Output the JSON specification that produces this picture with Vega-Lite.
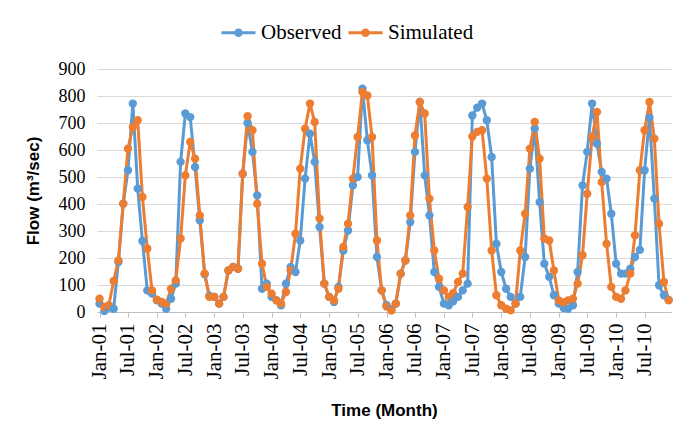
{
  "$schema": "https://vega.github.io/schema/vega-lite/v6.json",
  "width": 574,
  "height": 243,
  "autosize": {"type": "none"},
  "padding": {"left": 97, "top": 69, "right": 2, "bottom": 124},
  "background": "white",
  "config": {"view": {"stroke": null}},
  "data": {"values": [
    {"date":"2001/01/01","Observed":31,"Simulated":49},
    {"date":"2001/02/01","Observed":4,"Simulated":18},
    {"date":"2001/03/01","Observed":16,"Simulated":25},
    {"date":"2001/04/01","Observed":12,"Simulated":115},
    {"date":"2001/05/01","Observed":185,"Simulated":191},
    {"date":"2001/06/01","Observed":401,"Simulated":401},
    {"date":"2001/07/01","Observed":525,"Simulated":605},
    {"date":"2001/08/01","Observed":772,"Simulated":685},
    {"date":"2001/09/01","Observed":457,"Simulated":710},
    {"date":"2001/10/01","Observed":263,"Simulated":426},
    {"date":"2001/11/01","Observed":80,"Simulated":235},
    {"date":"2001/12/01","Observed":68,"Simulated":80},
    {"date":"2002/01/01","Observed":43,"Simulated":46},
    {"date":"2002/02/01","Observed":31,"Simulated":37},
    {"date":"2002/03/01","Observed":12,"Simulated":31},
    {"date":"2002/04/01","Observed":49,"Simulated":86},
    {"date":"2002/05/01","Observed":105,"Simulated":117},
    {"date":"2002/06/01","Observed":556,"Simulated":272},
    {"date":"2002/07/01","Observed":735,"Simulated":506},
    {"date":"2002/08/01","Observed":722,"Simulated":630},
    {"date":"2002/09/01","Observed":537,"Simulated":568},
    {"date":"2002/10/01","Observed":340,"Simulated":358},
    {"date":"2002/11/01","Observed":140,"Simulated":142},
    {"date":"2002/12/01","Observed":60,"Simulated":56},
    {"date":"2003/01/01","Observed":56,"Simulated":56},
    {"date":"2003/02/01","Observed":31,"Simulated":31},
    {"date":"2003/03/01","Observed":56,"Simulated":56},
    {"date":"2003/04/01","Observed":154,"Simulated":154},
    {"date":"2003/05/01","Observed":167,"Simulated":167},
    {"date":"2003/06/01","Observed":160,"Simulated":160},
    {"date":"2003/07/01","Observed":512,"Simulated":512},
    {"date":"2003/08/01","Observed":700,"Simulated":725},
    {"date":"2003/09/01","Observed":593,"Simulated":673},
    {"date":"2003/10/01","Observed":432,"Simulated":401},
    {"date":"2003/11/01","Observed":86,"Simulated":179},
    {"date":"2003/12/01","Observed":105,"Simulated":93},
    {"date":"2004/01/01","Observed":56,"Simulated":68},
    {"date":"2004/02/01","Observed":43,"Simulated":43},
    {"date":"2004/03/01","Observed":25,"Simulated":31},
    {"date":"2004/04/01","Observed":105,"Simulated":74},
    {"date":"2004/05/01","Observed":167,"Simulated":154},
    {"date":"2004/06/01","Observed":148,"Simulated":290},
    {"date":"2004/07/01","Observed":265,"Simulated":531},
    {"date":"2004/08/01","Observed":494,"Simulated":679},
    {"date":"2004/09/01","Observed":660,"Simulated":772},
    {"date":"2004/10/01","Observed":556,"Simulated":704},
    {"date":"2004/11/01","Observed":315,"Simulated":346},
    {"date":"2004/12/01","Observed":105,"Simulated":105},
    {"date":"2005/01/01","Observed":56,"Simulated":56},
    {"date":"2005/02/01","Observed":37,"Simulated":43},
    {"date":"2005/03/01","Observed":93,"Simulated":86},
    {"date":"2005/04/01","Observed":228,"Simulated":241},
    {"date":"2005/05/01","Observed":302,"Simulated":327},
    {"date":"2005/06/01","Observed":469,"Simulated":494},
    {"date":"2005/07/01","Observed":500,"Simulated":648},
    {"date":"2005/08/01","Observed":827,"Simulated":815},
    {"date":"2005/09/01","Observed":636,"Simulated":802},
    {"date":"2005/10/01","Observed":506,"Simulated":648},
    {"date":"2005/11/01","Observed":204,"Simulated":265},
    {"date":"2005/12/01","Observed":80,"Simulated":80},
    {"date":"2006/01/01","Observed":25,"Simulated":20},
    {"date":"2006/02/01","Observed":10,"Simulated":5},
    {"date":"2006/03/01","Observed":31,"Simulated":31},
    {"date":"2006/04/01","Observed":142,"Simulated":142},
    {"date":"2006/05/01","Observed":191,"Simulated":191},
    {"date":"2006/06/01","Observed":333,"Simulated":358},
    {"date":"2006/07/01","Observed":593,"Simulated":654},
    {"date":"2006/08/01","Observed":778,"Simulated":778},
    {"date":"2006/09/01","Observed":506,"Simulated":735},
    {"date":"2006/10/01","Observed":358,"Simulated":420},
    {"date":"2006/11/01","Observed":148,"Simulated":228},
    {"date":"2006/12/01","Observed":93,"Simulated":123},
    {"date":"2007/01/01","Observed":31,"Simulated":80},
    {"date":"2007/02/01","Observed":25,"Simulated":56},
    {"date":"2007/03/01","Observed":40,"Simulated":70},
    {"date":"2007/04/01","Observed":56,"Simulated":111},
    {"date":"2007/05/01","Observed":80,"Simulated":142},
    {"date":"2007/06/01","Observed":105,"Simulated":389},
    {"date":"2007/07/01","Observed":728,"Simulated":650},
    {"date":"2007/08/01","Observed":757,"Simulated":667},
    {"date":"2007/09/01","Observed":772,"Simulated":673},
    {"date":"2007/10/01","Observed":710,"Simulated":494},
    {"date":"2007/11/01","Observed":574,"Simulated":228},
    {"date":"2007/12/01","Observed":253,"Simulated":62},
    {"date":"2008/01/01","Observed":148,"Simulated":25},
    {"date":"2008/02/01","Observed":86,"Simulated":12},
    {"date":"2008/03/01","Observed":56,"Simulated":6},
    {"date":"2008/04/01","Observed":31,"Simulated":31},
    {"date":"2008/05/01","Observed":56,"Simulated":228},
    {"date":"2008/06/01","Observed":204,"Simulated":364},
    {"date":"2008/07/01","Observed":531,"Simulated":605},
    {"date":"2008/08/01","Observed":680,"Simulated":704},
    {"date":"2008/09/01","Observed":407,"Simulated":568},
    {"date":"2008/10/01","Observed":179,"Simulated":272},
    {"date":"2008/11/01","Observed":130,"Simulated":265},
    {"date":"2008/12/01","Observed":62,"Simulated":154},
    {"date":"2009/01/01","Observed":31,"Simulated":43},
    {"date":"2009/02/01","Observed":15,"Simulated":35},
    {"date":"2009/03/01","Observed":12,"Simulated":43},
    {"date":"2009/04/01","Observed":25,"Simulated":49},
    {"date":"2009/05/01","Observed":148,"Simulated":105},
    {"date":"2009/06/01","Observed":469,"Simulated":210},
    {"date":"2009/07/01","Observed":593,"Simulated":438},
    {"date":"2009/08/01","Observed":772,"Simulated":648},
    {"date":"2009/09/01","Observed":623,"Simulated":741},
    {"date":"2009/10/01","Observed":519,"Simulated":481},
    {"date":"2009/11/01","Observed":494,"Simulated":253},
    {"date":"2009/12/01","Observed":364,"Simulated":93},
    {"date":"2010/01/01","Observed":179,"Simulated":56},
    {"date":"2010/02/01","Observed":142,"Simulated":49},
    {"date":"2010/03/01","Observed":142,"Simulated":80},
    {"date":"2010/04/01","Observed":160,"Simulated":142},
    {"date":"2010/05/01","Observed":204,"Simulated":284},
    {"date":"2010/06/01","Observed":230,"Simulated":525},
    {"date":"2010/07/01","Observed":525,"Simulated":673},
    {"date":"2010/08/01","Observed":720,"Simulated":778},
    {"date":"2010/09/01","Observed":420,"Simulated":642},
    {"date":"2010/10/01","Observed":99,"Simulated":327},
    {"date":"2010/11/01","Observed":62,"Simulated":111},
    {"date":"2010/12/01","Observed":45,"Simulated":43}
  ]},
  "transform": [{"fold": ["Observed", "Simulated"], "as": ["Series", "Flow"]}],
  "mark": {"type": "line", "strokeWidth": 3, "point": {"filled": true, "size": 70}},
  "encoding": {
    "x": {
      "field": "date", "type": "temporal",
      "scale": {"domain": [{"year": 2000, "month": 12, "date": 16}, {"year": 2010, "month": 12, "date": 16}]},
      "axis": {
        "values": [
          {"year":2001,"month":1,"date":1},{"year":2001,"month":7,"date":1},
          {"year":2002,"month":1,"date":1},{"year":2002,"month":7,"date":1},
          {"year":2003,"month":1,"date":1},{"year":2003,"month":7,"date":1},
          {"year":2004,"month":1,"date":1},{"year":2004,"month":7,"date":1},
          {"year":2005,"month":1,"date":1},{"year":2005,"month":7,"date":1},
          {"year":2006,"month":1,"date":1},{"year":2006,"month":7,"date":1},
          {"year":2007,"month":1,"date":1},{"year":2007,"month":7,"date":1},
          {"year":2008,"month":1,"date":1},{"year":2008,"month":7,"date":1},
          {"year":2009,"month":1,"date":1},{"year":2009,"month":7,"date":1},
          {"year":2010,"month":1,"date":1},{"year":2010,"month":7,"date":1}
        ],
        "format": "%b-%y",
        "labelAngle": -90,
        "labelFont": "Liberation Serif",
        "labelFontSize": 21,
        "labelColor": "#000000",
        "labelPadding": 6,
        "labelOverlap": false,
        "labelFlush": false,
        "grid": false,
        "domainColor": "#BFBFBF",
        "tickColor": "#BFBFBF",
        "tickSize": 5,
        "title": "Time (Month)",
        "titleFont": "Liberation Sans",
        "titleFontWeight": "bold",
        "titleFontSize": 17,
        "titleColor": "#000000",
        "titlePadding": 24
      }
    },
    "y": {
      "field": "Flow", "type": "quantitative",
      "scale": {"domain": [0, 900], "nice": false},
      "axis": {
        "values": [0, 100, 200, 300, 400, 500, 600, 700, 800, 900],
        "labelFont": "Liberation Serif",
        "labelFontSize": 18,
        "labelColor": "#000000",
        "labelPadding": 12,
        "ticks": false,
        "domain": false,
        "grid": true,
        "gridColor": "#D9D9D9",
        "title": "Flow (m³/sec)",
        "titleFont": "Liberation Sans",
        "titleFontWeight": "bold",
        "titleFontSize": 17,
        "titleColor": "#000000",
        "titlePadding": 16
      }
    },
    "color": {
      "field": "Series", "type": "nominal",
      "scale": {"domain": ["Observed", "Simulated"], "range": ["#5B9BD5", "#ED7D31"]},
      "legend": {
        "orient": "none",
        "direction": "horizontal",
        "legendX": 123,
        "legendY": -55,
        "title": null,
        "symbolType": "M-1,0H1M-0.165,0A0.165,0.165 0 1,0 0.165,0A0.165,0.165 0 1,0 -0.165,0",
        "symbolSize": 1156,
        "symbolStrokeWidth": 3,
        "labelFont": "Liberation Serif",
        "labelFontSize": 21,
        "labelColor": "#000000",
        "labelOffset": 4,
        "columnPadding": 0
      }
    }
  }
}
